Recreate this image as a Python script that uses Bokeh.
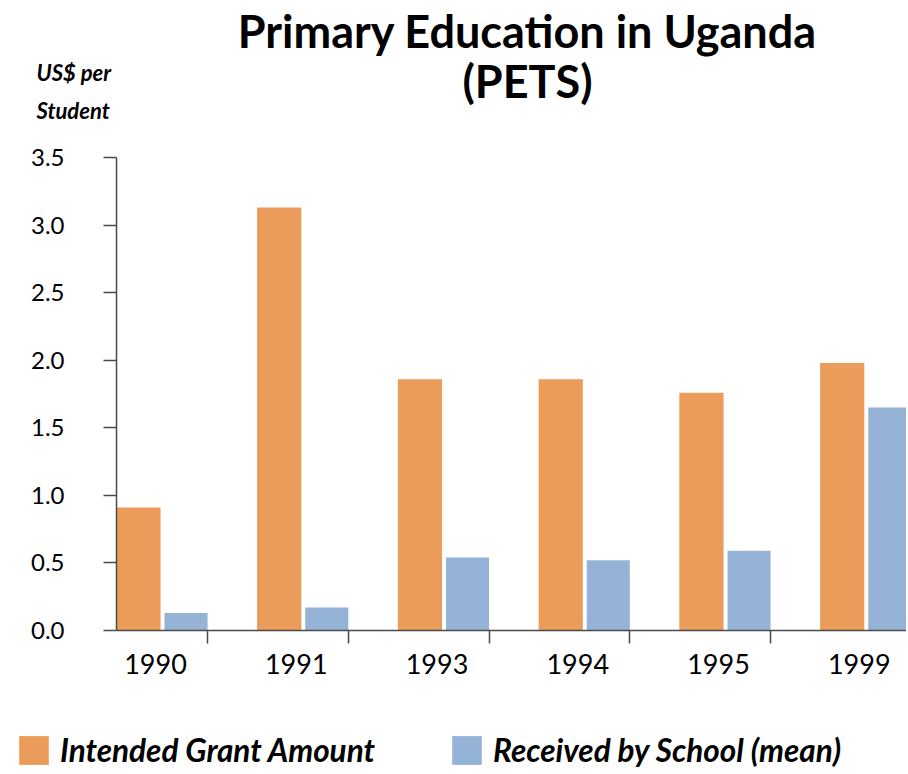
from bokeh.plotting import figure
from bokeh.models import (ColumnDataSource, Range1d, FixedTicker, CustomJSTickFormatter,
                          NumeralTickFormatter, Legend, LegendItem)
from bokeh.core.properties import value
from bokeh.transform import dodge
from bokeh.embed import file_html
from bokeh.resources import INLINE

years = ["1990", "1991", "1993", "1994", "1995", "1999"]
intended = [0.91, 3.13, 1.86, 1.86, 1.76, 1.98]
received = [0.13, 0.17, 0.54, 0.52, 0.59, 1.65]
y_ticks = [0.0, 0.5, 1.0, 1.5, 2.0, 2.5, 3.0, 3.5]
title_lines = ["Primary Education in Uganda", "(PETS)"]
caption_lines = ["US$ per", "Student"]
legend_labels = ["Intended Grant Amount", "Received by School (mean)"]

ORANGE = "#EB9C5B"
BLUE = "#95B3D7"
AXIS = "#4a4a4a"
FONT = "Lato"

# canvas / layout (pixels)
W, H = 906, 772
AX_X, AX_Y = 116, 630          # where the y axis and the x axis sit
PX_PER_CAT, PX_PER_UNIT = 140.75, 135.14
X_AXIS_VAL = 0.353             # category coordinate at the y axis

def xd(px):
    return X_AXIS_VAL + (px - AX_X) / PX_PER_CAT

def yd(py):
    return (AX_Y - py) / PX_PER_UNIT

idx = list(range(len(years)))
src = ColumnDataSource(dict(idx=idx, intended=intended, received=received))

p = figure(width=W, height=H, output_backend="svg", toolbar_location=None,
           x_range=Range1d(xd(0), xd(W)), y_range=Range1d(yd(H), yd(0)),
           min_border=0)
p.outline_line_color = None
p.xgrid.visible = False
p.ygrid.visible = False
p.background_fill_color = "white"

r1 = p.vbar(x=dodge("idx", 0.509, range=p.x_range), top="intended", width=0.314,
            source=src, fill_color=ORANGE, line_color=None)
r2 = p.vbar(x=dodge("idx", 0.847, range=p.x_range), top="received", width=0.306,
            source=src, fill_color=BLUE, line_color=None)

# x axis (drawn at y = 0)
xa = p.xaxis[0]
xa.fixed_location = 0
xa.bounds = (X_AXIS_VAL, xd(W))
xa.ticker = FixedTicker(ticks=[i + 0.63 for i in idx], minor_ticks=[i + 1 for i in idx])
xa.formatter = CustomJSTickFormatter(args=dict(labels=years),
                                     code="return labels[Math.floor(tick)];")
xa.major_tick_out = 0
xa.major_tick_in = 0
xa.minor_tick_out = 13
xa.minor_tick_in = 0
xa.minor_tick_line_color = AXIS
xa.minor_tick_line_width = 1.5
xa.axis_line_color = AXIS
xa.axis_line_width = 1.5
xa.major_label_text_font = FONT
xa.major_label_text_font_size = "27px"
xa.major_label_text_color = "black"
xa.major_label_standoff = 10

# y axis (drawn at the left edge of the bars area)
ya = p.yaxis[0]
ya.fixed_location = X_AXIS_VAL
ya.bounds = (y_ticks[0], y_ticks[-1])
ya.ticker = FixedTicker(ticks=y_ticks, minor_ticks=[])
ya.formatter = NumeralTickFormatter(format="0.0")
ya.major_tick_out = 13
ya.major_tick_in = 0
ya.major_tick_line_color = AXIS
ya.major_tick_line_width = 1.5
ya.axis_line_color = AXIS
ya.axis_line_width = 1.5
ya.major_label_text_font = FONT
ya.major_label_text_font_size = "24px"
ya.major_label_text_color = "black"
ya.major_label_standoff = 39

# title
tsrc = ColumnDataSource(dict(x=[xd(527)] * 2, y=[yd(30), yd(80)], t=title_lines))
p.text(x="x", y="y", text="t", source=tsrc, text_font=value(FONT), text_font_size="45px",
       text_font_style="bold", text_color="black", text_align="center",
       text_baseline="middle")

# y caption
csrc = ColumnDataSource(dict(x=[xd(36)] * 2, y=[yd(72), yd(110)], t=caption_lines))
p.text(x="x", y="y", text="t", source=csrc, text_font=value(FONT), text_font_size="22px",
       text_font_style="bold italic", text_color="black", text_align="left",
       text_baseline="middle")

legend = Legend(items=[LegendItem(label=legend_labels[0], renderers=[r1]),
                       LegendItem(label=legend_labels[1], renderers=[r2])],
                orientation="horizontal", location=(15, 3))
legend.label_text_font = FONT
legend.label_text_font_size = "31.5px"
legend.label_text_font_style = "bold italic"
legend.label_text_color = "black"
legend.glyph_width = 37
legend.glyph_height = 36
legend.spacing = 73
legend.label_standoff = 8
legend.padding = 0
legend.margin = 0
legend.border_line_color = None
legend.background_fill_alpha = 0
p.add_layout(legend, "center")

open("out.html", "w").write(file_html(p, INLINE))
